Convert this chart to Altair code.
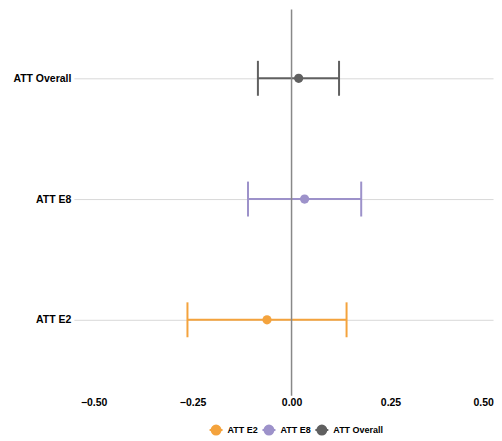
import altair as alt
import pandas as pd

labels = ["ATT E2", "ATT E8", "ATT Overall"]
estimates = [-0.062, 0.033, 0.018]
lower = [-0.263, -0.110, -0.085]
upper = [0.139, 0.176, 0.120]
colors = ["#F4A33D", "#9D92CA", "#606060"]
x_ticks = [-0.5, -0.25, 0.0, 0.25, 0.5]
order = ["ATT Overall", "ATT E8", "ATT E2"]

df = pd.DataFrame({"term": labels, "est": estimates, "lo": lower, "hi": upper})

FONT = "Liberation Sans"

xscale = alt.Scale(domain=[-0.55, 0.509], nice=False, zero=False)
yscale = alt.Scale(domain=order, type="point", range=[69, 311], padding=0)
cscale = alt.Scale(domain=labels, range=colors)

legend_path = "M-1,0L1,0M0.69,0A0.69,0.69,0,1,1,-0.69,0A0.69,0.69,0,1,1,0.69,0Z"

x_enc = alt.X("est:Q", scale=xscale, title=None,
              axis=alt.Axis(values=x_ticks, format=".2f", grid=False, domain=False,
                            ticks=False, tickSize=0, labelPadding=2, labelFontSize=10.5,
                            labelFontWeight="bold", labelColor="#000000", labelFont=FONT,
                            labelAlign={"condition": {"test": "datum.value >= 0.5", "value": "right"},
                                        "value": "center"},
                            labelOffset={"condition": {"test": "datum.value >= 0.5", "value": 4},
                                         "value": 0}))
y_enc = alt.Y("term:N", scale=yscale, title=None, sort=order,
              axis=alt.Axis(grid=True, gridColor="#D9D9D9", gridWidth=1, domain=False,
                            ticks=False, tickSize=0, labelPadding=3, labelFontSize=10.5,
                            labelFontWeight="bold", labelColor="#000000", labelFont=FONT,
                            minExtent=66, maxExtent=66))

base = alt.Chart(df)

bars = base.mark_rule(strokeWidth=2, opacity=1).encode(
    x=alt.X("lo:Q", scale=xscale),
    x2="hi:Q",
    y=alt.Y("term:N", scale=yscale, sort=order),
    color=alt.Color("term:N", scale=cscale),
)
caps_lo = base.mark_tick(orient="vertical", size=35, thickness=2, opacity=1).encode(
    x=alt.X("lo:Q", scale=xscale),
    y=alt.Y("term:N", scale=yscale, sort=order),
    color=alt.Color("term:N", scale=cscale),
)
caps_hi = base.mark_tick(orient="vertical", size=35, thickness=2, opacity=1).encode(
    x=alt.X("hi:Q", scale=xscale),
    y=alt.Y("term:N", scale=yscale, sort=order),
    color=alt.Color("term:N", scale=cscale),
)
zero = alt.Chart(pd.DataFrame({"z": [0.0]})).mark_rule(color="#888888", strokeWidth=1.5).encode(
    x=alt.X("z:Q", scale=xscale)
)
points = base.mark_point(filled=True, size=85, opacity=1, strokeWidth=2).encode(
    x=x_enc,
    y=y_enc,
    color=alt.Color("term:N", scale=cscale,
                    legend=alt.Legend(title=None, orient="none", direction="horizontal",
                                      legendX=135, legendY=414,
                                      symbolType=legend_path, symbolSize=169,
                                      symbolStrokeWidth=2, symbolOpacity=1,
                                      labelFont=FONT, labelFontSize=9, labelFontWeight="bold",
                                      labelColor="#000000", labelOffset=4, columnPadding=0)),
)

chart = alt.layer(bars, caps_lo, caps_hi, zero, points).properties(
    width=420, height=387, padding=0, background="#FFFFFF"
).configure_view(stroke=None)

chart.save("out.html", embed_options={"renderer": "svg", "actions": False})
